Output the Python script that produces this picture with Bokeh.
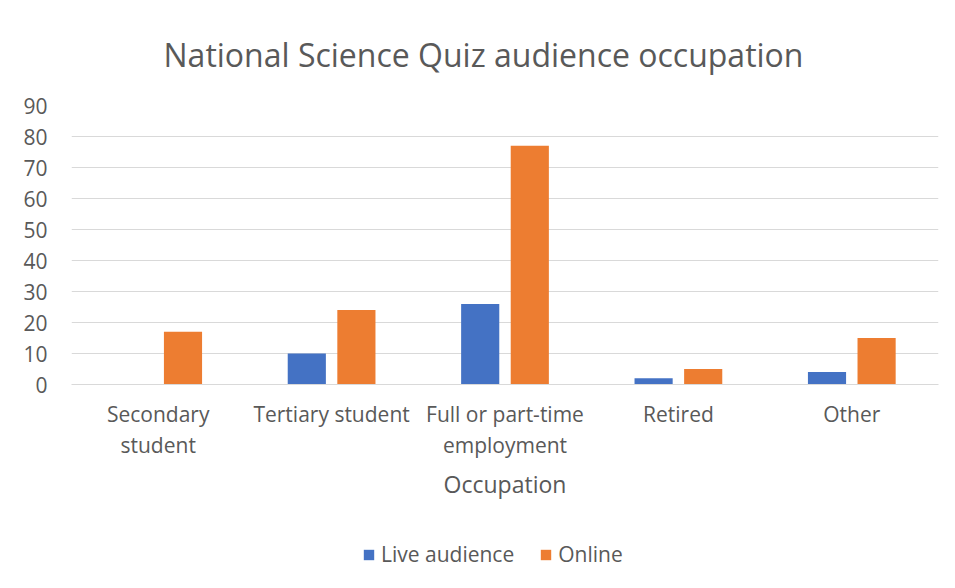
from bokeh.plotting import figure
from bokeh.layouts import column
from bokeh.models import (ColumnDataSource, Range1d, FixedTicker, Legend, LegendItem,
                          CategoricalAxis, CustomJSTickFormatter)
from bokeh.transform import dodge
from bokeh.embed import file_html
from bokeh.resources import INLINE

categories = ["Secondary student", "Tertiary student", "Full or part-time employment", "Retired", "Other"]
label_line1 = ["Secondary", "Tertiary student", "Full or part-time", "Retired", "Other"]
label_line2 = ["student", "", "employment", "", ""]
live_audience = [0, 10, 26, 2, 4]
online = [17, 24, 77, 5, 15]
y_ticks = [0, 10, 20, 30, 40, 50, 60, 70, 80, 90]

FONT = "Open Sans"
TXT = "#595959"
GRID = "#D9D9D9"
BLUE = "#4472C4"
ORANGE = "#ED7D31"

source = ColumnDataSource(dict(cat=categories, live=live_audience, online=online))

p = figure(x_range=categories, y_range=Range1d(0, 90), width=947, height=520,
           output_backend="svg", toolbar_location=None, x_axis_location=None,
           min_border_left=71, min_border_right=9, min_border_top=105, min_border_bottom=136)

p.title.text = "National Science Quiz audience occupation"
p.title.align = "left"
p.title.text_font = FONT
p.title.text_font_style = "normal"
p.title.text_font_size = "32px"
p.title.text_color = TXT
p.title.offset = 92
p.title.standoff = 60

p.vbar(x=dodge("cat", -0.143, range=p.x_range), top="live", width=0.22, source=source,
       fill_color=BLUE, line_color=None)
p.vbar(x=dodge("cat", 0.143, range=p.x_range), top="online", width=0.22, source=source,
       fill_color=ORANGE, line_color=None)

p.outline_line_color = None
p.xgrid.grid_line_color = None
p.ygrid.grid_line_color = GRID
p.ygrid.grid_line_width = 1

p.yaxis.ticker = FixedTicker(ticks=y_ticks)
p.yaxis.axis_line_color = None
p.yaxis.major_tick_line_color = None
p.yaxis.minor_tick_line_color = None
p.yaxis.major_label_text_font = FONT
p.yaxis.major_label_text_font_size = "21px"
p.yaxis.major_label_text_color = TXT
p.yaxis.major_label_standoff = 18

def make_xaxis(labels, standoff):
    ax = CategoricalAxis()
    ax.axis_line_color = None
    ax.major_tick_line_color = None
    ax.minor_tick_line_color = None
    ax.major_label_text_font = FONT
    ax.major_label_text_font_size = "21px"
    ax.major_label_text_color = TXT
    ax.major_label_standoff = standoff
    ax.formatter = CustomJSTickFormatter(args=dict(m=dict(zip(categories, labels))),
                                         code="return m[tick] !== undefined ? m[tick] : tick;")
    return ax

ax1 = make_xaxis(label_line1, 9)
ax1.axis_line_color = GRID
ax2 = make_xaxis(label_line2, -6)
ax2.axis_label = "Occupation"
ax2.axis_label_text_font = FONT
ax2.axis_label_text_font_style = "normal"
ax2.axis_label_text_font_size = "23px"
ax2.axis_label_text_color = TXT
ax2.axis_label_standoff = 6
p.add_layout(ax1, "below")
p.add_layout(ax2, "below")

# legend strip below the chart (series keys drawn from the same data source)
lf = figure(x_range=categories, y_range=Range1d(1000, 1001), width=947, height=60,
            output_backend="svg", toolbar_location=None,
            x_axis_location=None, y_axis_location=None, min_border=0)
lf.outline_line_color = None
lf.xgrid.grid_line_color = None
lf.ygrid.grid_line_color = None
k1 = lf.vbar(x="cat", top="live", width=0.22, source=source, fill_color=BLUE, line_color=None)
k2 = lf.vbar(x="cat", top="online", width=0.22, source=source, fill_color=ORANGE, line_color=None)

legend = Legend(items=[LegendItem(label="Live audience", renderers=[k1]),
                       LegendItem(label="Online", renderers=[k2])],
                orientation="horizontal", location=(291, 12))
legend.label_text_font = FONT
legend.label_text_font_size = "21px"
legend.label_text_color = TXT
legend.glyph_width = 13
legend.glyph_height = 13
legend.label_standoff = 6
legend.spacing = 25
legend.padding = 0
legend.margin = 0
legend.border_line_color = None
legend.background_fill_alpha = 0
lf.add_layout(legend, "center")

layout = column(p, lf, spacing=0)
open("out.html", "w").write(file_html(layout, INLINE))
